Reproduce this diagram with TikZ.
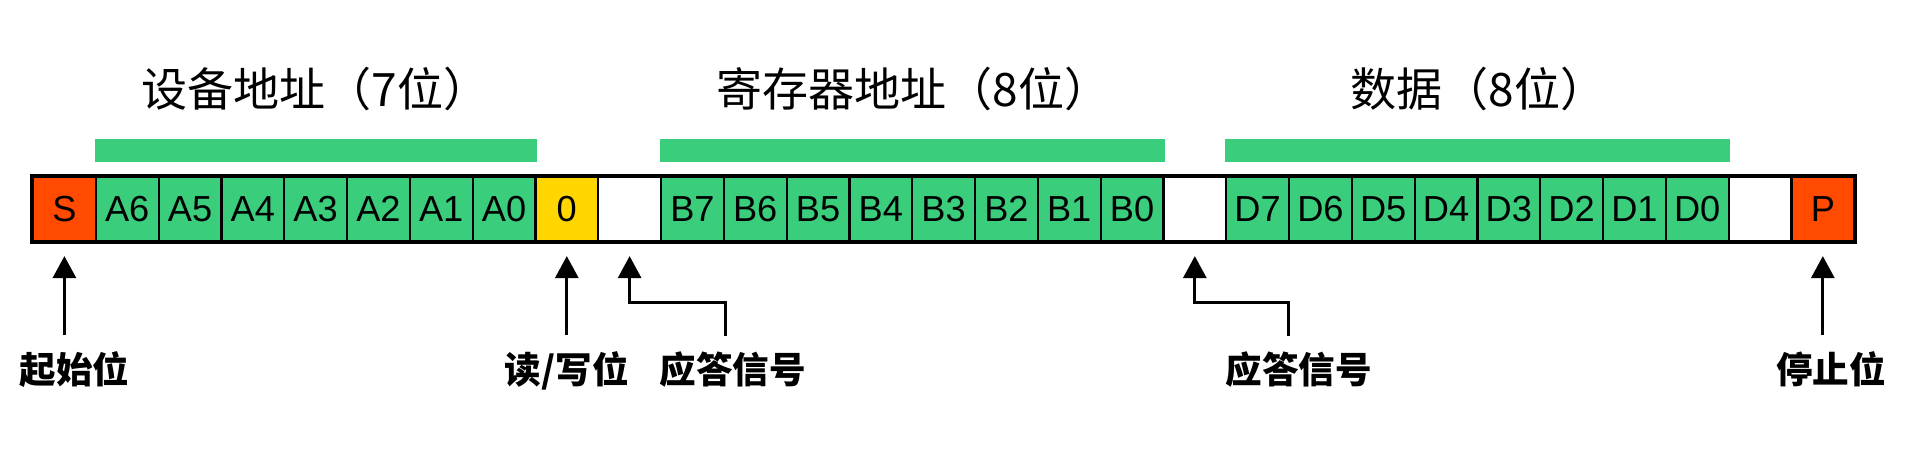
\documentclass[tikz,border=0pt]{standalone}
\usepackage{fontspec}
\setmainfont{Liberation Sans}
\newfontfamily\cjk{Noto Sans CJK SC}
\usetikzlibrary{arrows.meta,positioning}

\definecolor{startred}{RGB}{255,74,0}
\definecolor{bitgreen}{RGB}{58,205,124}
\definecolor{rwyellow}{RGB}{255,214,0}

\begin{document}
\begin{tikzpicture}[node distance={0.628cm},
        cell/.style = {draw, line width=0.022cm, minimum width=0.628cm, minimum height=0.64cm, inner sep=0pt,
                       font=\fontsize{10.3pt}{12pt}\selectfont},
        red/.style = {cell, fill=startred},
        bit/.style = {cell, fill=bitgreen},
        rw/.style = {cell, fill=rwyellow},
        ack/.style = {cell, fill=white},
        bar/.style = {fill=bitgreen},
        title/.style = {anchor=base, inner sep=0pt, font=\cjk\fontsize{13.1pt}{15pt}\selectfont},
        tag/.style = {anchor=base, inner xsep=0pt, inner ysep=0.15cm, font=\cjk\bfseries\fontsize{10.4pt}{12pt}\selectfont},
        arr/.style = {line width=0.03cm, -{Triangle[width=0.23cm,length=0.22cm]}, shorten >=0.14cm}]
        \useasboundingbox (0,0) rectangle (19.05,-4.74);

        % the frame
        \node[red] (1) at (0.644,-2.09) {S};
        \node[bit] (2) [right of=1]  {A6};
        \node[bit] (3) [right of=2]  {A5};
        \node[bit] (4) [right of=3]  {A4};
        \node[bit] (5) [right of=4]  {A3};
        \node[bit] (6) [right of=5]  {A2};
        \node[bit] (7) [right of=6]  {A1};
        \node[bit] (8) [right of=7]  {A0};
        \node[rw]  (9) [right of=8]  {0};
        \node[ack] (10) [right of=9] {};
        \node[bit] (11) [right of=10] {B7};
        \node[bit] (12) [right of=11] {B6};
        \node[bit] (13) [right of=12] {B5};
        \node[bit] (14) [right of=13] {B4};
        \node[bit] (15) [right of=14] {B3};
        \node[bit] (16) [right of=15] {B2};
        \node[bit] (17) [right of=16] {B1};
        \node[bit] (18) [right of=17] {B0};
        \node[ack] (19) [right of=18] {};
        \node[bit] (20) [right of=19] {D7};
        \node[bit] (21) [right of=20] {D6};
        \node[bit] (22) [right of=21] {D5};
        \node[bit] (23) [right of=22] {D4};
        \node[bit] (24) [right of=23] {D3};
        \node[bit] (25) [right of=24] {D2};
        \node[bit] (26) [right of=25] {D1};
        \node[bit] (27) [right of=26] {D0};
        \node[ack] (28) [right of=27] {};
        \node[red] (29) [right of=28] {P};
        \draw[line width=0.035cm] (1.north west) rectangle (29.south east);

        % groups
        \fill[bar] ([yshift=0.14cm]2.north west) rectangle ([yshift=0.37cm]8.north east);
        \fill[bar] ([yshift=0.14cm]11.north west) rectangle ([yshift=0.37cm]18.north east);
        \fill[bar] ([yshift=0.14cm]20.north west) rectangle ([yshift=0.37cm]27.north east);
        \node[title] (t1) at ([yshift=0.69cm]5.north)        {设备地址（7位）};
        \node[title] (t2) at ([yshift=0.69cm]14.north east)  {寄存器地址（8位）};
        \node[title] (t3) at ([yshift=0.69cm]23.north east)  {数据（8位）};

        % \pause

        \node[tag] (l1) at ([xshift=0.1cm,yshift=-1.41cm]1.south)   {起始位};
        \node[tag] (l2) at ([yshift=-1.41cm]9.south)                {读/写位};
        \node[tag] (l3) at ([xshift=1.03cm,yshift=-1.41cm]10.south) {应答信号};
        \node[tag] (l4) at ([xshift=1.04cm,yshift=-1.41cm]19.south) {应答信号};
        \node[tag] (l5) at ([xshift=0.08cm,yshift=-1.41cm]29.south) {停止位};

        \draw[arr] (l1.north -| 1.south) -- (1.south);
        \draw[arr] (l2.north -| 9.south) -- (9.south);
        \draw[arr] ([xshift=-0.07cm]l3.north) -- ++(0,0.33) -| (10.south);
        \draw[arr] ([xshift=-0.1cm]l4.north) -- ++(0,0.33) -| (19.south);
        \draw[arr] (l5.north -| 29.south) -- (29.south);

    \end{tikzpicture}
\end{document}
